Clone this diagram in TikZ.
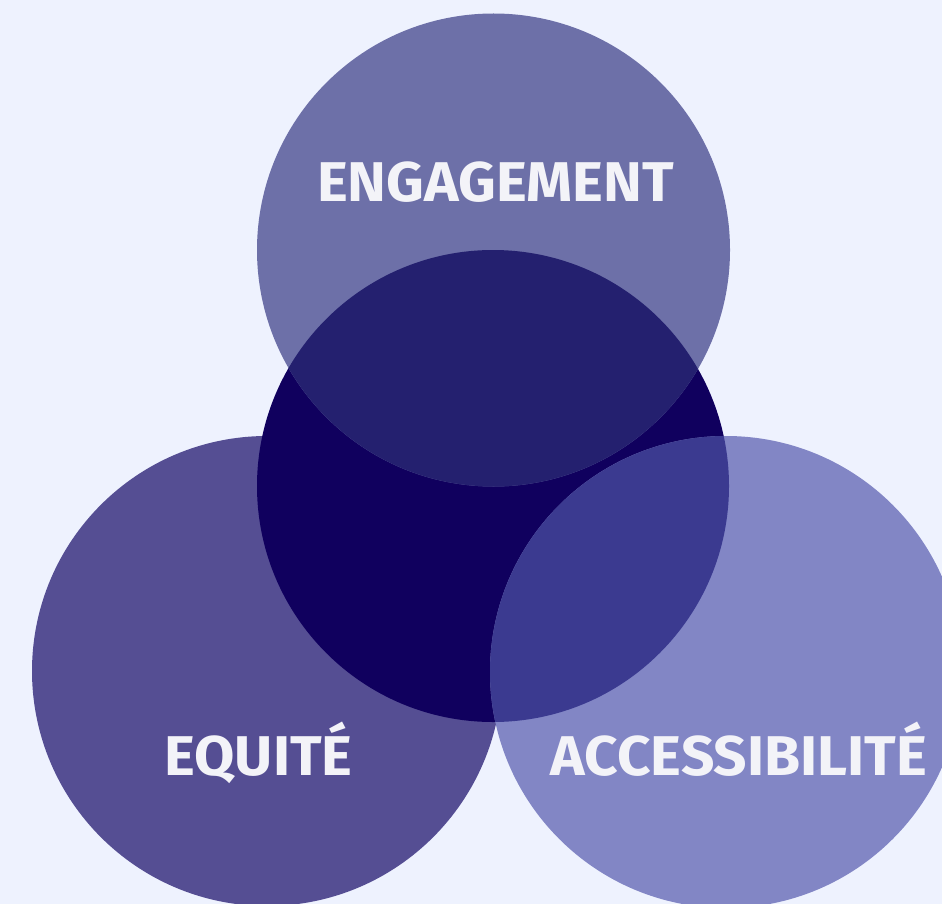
\documentclass[tikz,border=0pt]{standalone}
\usepackage{fontspec}
\setmainfont{Fira Sans}
\newfontfamily\lblfont{Fira Sans}[UprightFont=* Bold]
\definecolor{bgc}{HTML}{EEF2FE}
\definecolor{ctrc}{HTML}{10005E}
\definecolor{topc}{HTML}{6D70A8}
\definecolor{topov}{HTML}{24206F}
\definecolor{leftc}{HTML}{554E93}
\definecolor{rightc}{HTML}{8286C5}
\definecolor{rightov}{HTML}{3B3A90}
\definecolor{txtc}{HTML}{F3F3F8}
\newcommand{\wdlbl}[1]{\scalebox{1.045}[1]{#1}}
\tikzset{lbl/.style={text=txtc, font=\lblfont\fontsize{56}{60}\selectfont, inner sep=0pt, anchor=base}}
\begin{document}
\begin{tikzpicture}[x=1pt,y=-1pt]
\fill[bgc] (0,0) rectangle (942,904);
\useasboundingbox (0,0) rectangle (942,904);
\coordinate (cT) at (493.5,250);
\coordinate (cC) at (493,486);
\coordinate (cL) at (267,671);
\coordinate (cR) at (726,672);
\fill[leftc] (cL) circle (235);
\fill[ctrc] (cC) circle (236);
\fill[topc] (cT) circle (236.5);
\fill[rightc] (cR) circle (236);
\begin{scope}
\clip (cT) circle (236.5);
\fill[topov] (cC) circle (236);
\end{scope}
\begin{scope}
\clip (cR) circle (236);
\fill[rightov] (cC) circle (236);
\end{scope}
\node[lbl] (eng) at (495.5,201) {\wdlbl{ENGAGEMENT}};
\node[lbl] (equ) at (258.5,775) {\wdlbl{EQUITÉ}};
\node[lbl] (acc) at (739,775) {\wdlbl{ACCESSIBILITÉ}};
\end{tikzpicture}
\end{document}
